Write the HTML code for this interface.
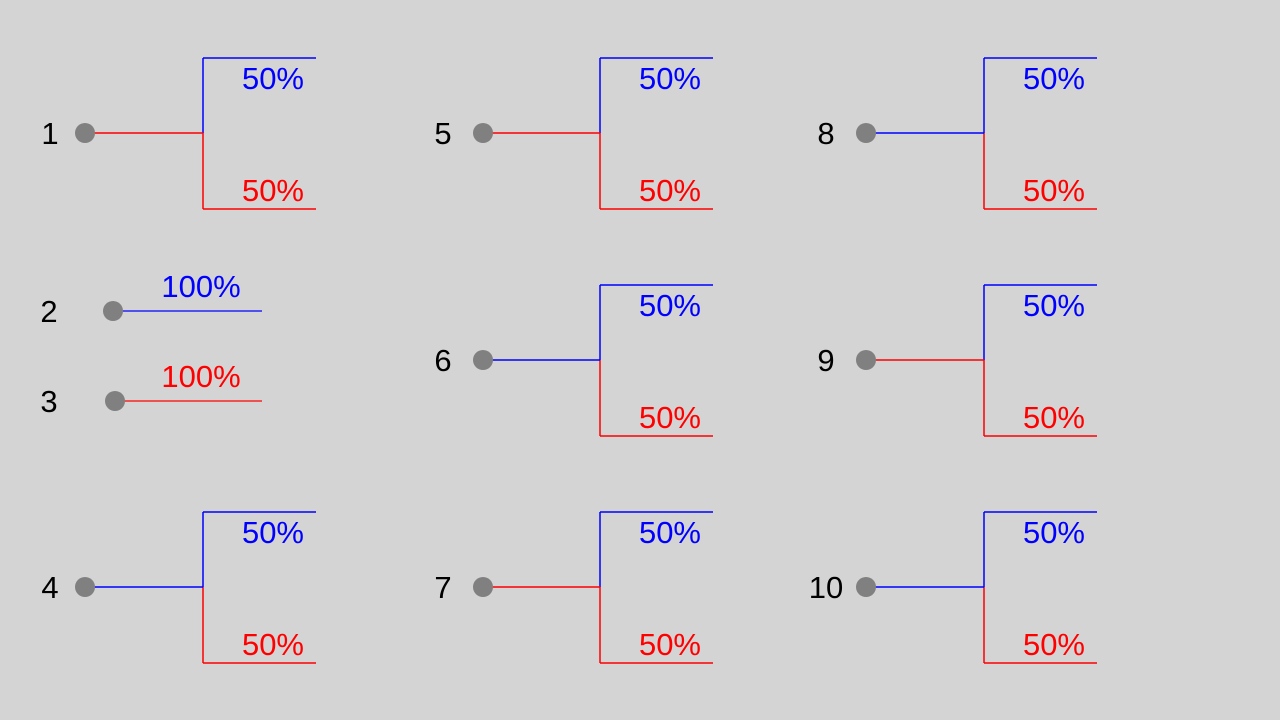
<!DOCTYPE html>
<html><head><meta charset="utf-8"><style>
html,body{margin:0;padding:0;background:#d4d4d4;}
svg{display:block;font-family:"Liberation Sans","DejaVu Sans",sans-serif;}
</style></head><body>
<svg id="chart" width="1280" height="720" viewBox="0 0 1280 720">
<rect width="1280" height="720" fill="#d4d4d4"/>
</svg>
<script>
const ids=['1','4','5','6','7','8','9','10'];
const topPct=['50%','50%','50%','50%','50%','50%','50%','50%'];
const botPct=['50%','50%','50%','50%','50%','50%','50%','50%'];
const stemColor=['red','blue','red','blue','red','blue','red','blue'];
const colIdx=[0,0,1,1,1,2,2,2];
const rowIdx=[0,2,0,1,2,0,1,2];
const singleIds=['2','3'];
const singlePct=['100%','100%'];
const singleColor=['blue','red'];

const NS='http://www.w3.org/2000/svg';
const svg=document.getElementById('chart');
const colDot=[85,483,866], colV=[203,600,984], colEnd=[316,713,1097], colNum=[50,443,826];
const rowY=[133,360,587];
function mk(tag,attrs,txt){const e=document.createElementNS(NS,tag);for(const k in attrs)e.setAttribute(k,attrs[k]);if(txt!==undefined)e.textContent=txt;svg.appendChild(e);return e;}
ids.forEach((id,i)=>{
  const c=colIdx[i], y=rowY[rowIdx[i]];
  const xd=colDot[c], xv=colV[c], xe=colEnd[c], top=y-75, bot=y+76;
  let e;
  e=mk('line',{x1:xv,y1:top,x2:xe,y2:top,stroke:'blue','stroke-width':1.5});
  
  
  e=mk('line',{x1:xv,y1:top,x2:xv,y2:y,stroke:'blue','stroke-width':1.5});
  
  
  e=mk('line',{x1:xv,y1:y,x2:xv,y2:bot,stroke:'red','stroke-width':1.5});
  
  
  e=mk('line',{x1:xv,y1:bot,x2:xe,y2:bot,stroke:'red','stroke-width':1.5});
  
  
  e=mk('line',{x1:xd,y1:y,x2:xv,y2:y,stroke:stemColor[i],'stroke-width':1.5});
  
  
  e=mk('circle',{cx:xd,cy:y,r:10,fill:'#808080'});
  
  
  e=mk('text',{x:colNum[c],y:y+11,'font-size':31,'text-anchor':'middle',fill:'#000'},id);
  
  
  e=mk('text',{x:xe-12,y:top+31,'font-size':31,'text-anchor':'end',fill:'blue'},topPct[i]);
  
  
  e=mk('text',{x:xe-12,y:bot-8,'font-size':31,'text-anchor':'end',fill:'red'},botPct[i]);
  
  
});
const sY=[311,401], sDot=[113,115];
singleIds.forEach((id,i)=>{
  const y=sY[i];let e;
  e=mk('line',{x1:sDot[i],y1:y,x2:262,y2:y,stroke:singleColor[i],'stroke-width':1.2});
  
  
  e=mk('circle',{cx:sDot[i],cy:y,r:10,fill:'#808080'});
  
  
  e=mk('text',{x:49,y:y+11,'font-size':31,'text-anchor':'middle',fill:'#000'},id);
  
  
  e=mk('text',{x:201,y:y-14,'font-size':31,'text-anchor':'middle',fill:singleColor[i]},singlePct[i]);
  
  
});
</script>
</body></html>
